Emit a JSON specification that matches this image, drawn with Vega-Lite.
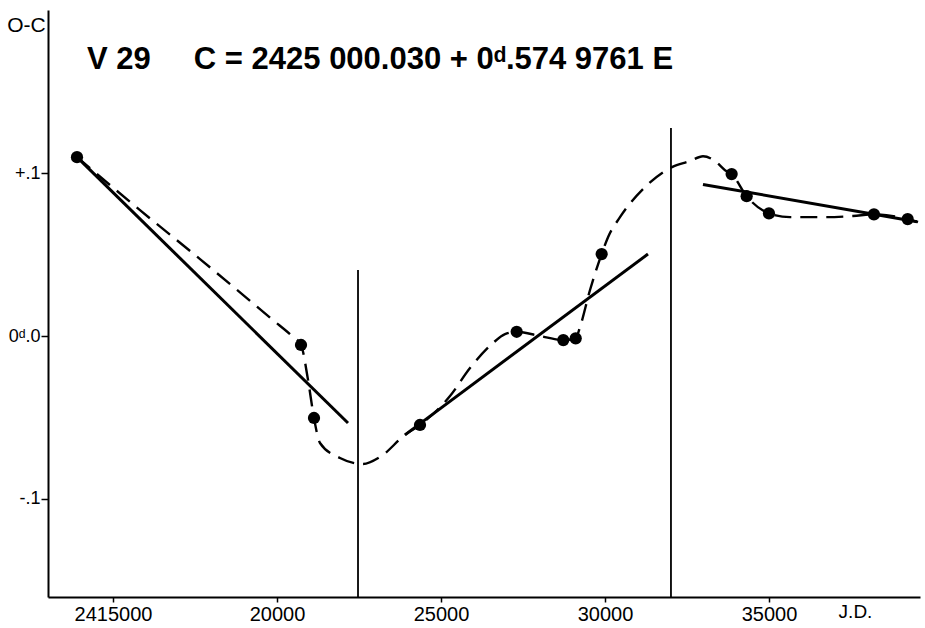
{
  "$schema": "https://vega.github.io/schema/vega-lite/v6.json",
  "autosize": {"type": "none"},
  "padding": {"left": 48, "top": 10, "right": 5, "bottom": 31},
  "width": 872,
  "height": 587,
  "background": "white",
  "config": {
    "view": {"stroke": null},
    "axis": {"grid": false, "domainColor": "black", "tickColor": "black", "labelColor": "black", "titleColor": "black", "labelFont": "Liberation Sans", "titleFont": "Liberation Sans"}
  },
  "title": {
    "text": "V 29\u00a0\u00a0\u00a0\u00a0\u00a0C = 2425 000.030 + 0\u1d48.574 9761 E",
    "anchor": "start",
    "frame": "group",
    "orient": "top",
    "offset": -90,
    "baseline": "alphabetic",
    "dx": 39,
    "font": "Liberation Sans",
    "fontSize": 31,
    "fontWeight": "bold",
    "color": "black"
  },
  "encoding": {
    "x": {
      "field": "jd",
      "type": "quantitative",
      "scale": {"domain": [13018, 39605], "nice": false, "zero": false},
      "axis": {
        "values": [15000, 20000, 25000, 30000, 35000],
        "labelExpr": "datum.value == 15000 ? '2415000' : '' + datum.value",
        "labelFontSize": 20,
        "labelPadding": 2,
        "labelFlush": false,
        "labelOverlap": false,
        "tickSize": 5,
        "tickWidth": 1.5,
        "domainWidth": 2,
        "title": "J.D.",
        "titleX": 807,
        "titleY": 14,
        "titleAlign": "center",
        "titleBaseline": "middle",
        "titleFontSize": 19,
        "titleFontWeight": "normal"
      }
    },
    "y": {
      "field": "v",
      "type": "quantitative",
      "scale": {"domain": [-0.1605, 0.2005], "nice": false, "zero": false},
      "axis": {
        "values": [-0.1, 0, 0.1],
        "labelExpr": "datum.value > 0.05 ? '+.1' : (datum.value < -0.05 ? '-.1' : '0\u1d48.0')",
        "labelFontSize": 18,
        "labelPadding": 1,
        "tickSize": 7,
        "tickWidth": 1.5,
        "domainWidth": 2,
        "title": "O-C",
        "titleAngle": 0,
        "titleX": -22,
        "titleY": 15,
        "titleAlign": "center",
        "titleBaseline": "middle",
        "titleFontSize": 21,
        "titleFontWeight": "normal"
      }
    }
  },
  "layer": [
    {
      "data": {"values": [{"jd": 22470, "v": 0.0406}, {"jd": 32012, "v": 0.128}]},
      "mark": {"type": "rule", "color": "black", "strokeWidth": 1.8},
      "encoding": {"y2": {"datum": -0.1605}}
    },
    {
      "data": {"values": [{}]},
      "mark": {"type": "rule", "color": "black", "strokeWidth": 2},
      "encoding": {"x": {"datum": 13018, "type": "quantitative"}, "x2": {"datum": 39605}, "y": {"datum": 0.2005, "type": "quantitative"}}
    },
    {
      "data": {"values": [
        {"seg": "A", "jd": 13902, "v": 0.110},
        {"seg": "A", "jd": 22165, "v": -0.0535},
        {"seg": "B", "jd": 23902, "v": -0.0608},
        {"seg": "B", "jd": 31311, "v": 0.0504},
        {"seg": "C", "jd": 32988, "v": 0.0932},
        {"seg": "C", "jd": 39512, "v": 0.0703}
      ]},
      "mark": {"type": "line", "color": "black", "strokeWidth": 3},
      "encoding": {"detail": {"field": "seg"}}
    },
    {
      "data": {"values": [
        {"jd": 13902, "v": 0.110},
        {"jd": 15823, "v": 0.0774},
        {"jd": 17653, "v": 0.0473},
        {"jd": 19878, "v": 0.0098},
        {"jd": 20458, "v": 0.0},
        {"jd": 20732, "v": -0.0055},
        {"jd": 20946, "v": -0.027},
        {"jd": 21128, "v": -0.0504},
        {"jd": 21311, "v": -0.0658},
        {"jd": 21921, "v": -0.075},
        {"jd": 22622, "v": -0.0787},
        {"jd": 23141, "v": -0.0744},
        {"jd": 23903, "v": -0.0608},
        {"jd": 24360, "v": -0.0547},
        {"jd": 25275, "v": -0.0369},
        {"jd": 25885, "v": -0.0197},
        {"jd": 26586, "v": -0.0043},
        {"jd": 26952, "v": 0.0012},
        {"jd": 27308, "v": 0.0026},
        {"jd": 28019, "v": 0.0},
        {"jd": 28729, "v": -0.0025},
        {"jd": 29107, "v": -0.0014},
        {"jd": 29239, "v": 0.0055},
        {"jd": 29544, "v": 0.0283},
        {"jd": 29899, "v": 0.0504},
        {"jd": 30093, "v": 0.0608},
        {"jd": 30458, "v": 0.0731},
        {"jd": 31221, "v": 0.0916},
        {"jd": 32044, "v": 0.1039},
        {"jd": 32593, "v": 0.1076},
        {"jd": 32989, "v": 0.1106},
        {"jd": 33355, "v": 0.1076},
        {"jd": 33660, "v": 0.102},
        {"jd": 33862, "v": 0.0996},
        {"jd": 34320, "v": 0.086},
        {"jd": 35000, "v": 0.0754},
        {"jd": 35642, "v": 0.0731},
        {"jd": 36648, "v": 0.0731},
        {"jd": 37563, "v": 0.0738},
        {"jd": 38201, "v": 0.0748},
        {"jd": 39229, "v": 0.0719},
        {"jd": 39544, "v": 0.0701}
      ]},
      "mark": {"type": "line", "color": "black", "strokeWidth": 2.4, "strokeDash": [17, 9], "interpolate": "monotone"}
    },
    {
      "data": {"values": [
        {"jd": 13902, "v": 0.110},
        {"jd": 20732, "v": -0.0055},
        {"jd": 21128, "v": -0.0504},
        {"jd": 24360, "v": -0.0547},
        {"jd": 27308, "v": 0.0026},
        {"jd": 28729, "v": -0.0025},
        {"jd": 29107, "v": -0.0014},
        {"jd": 29899, "v": 0.0504},
        {"jd": 33862, "v": 0.0996},
        {"jd": 34320, "v": 0.086},
        {"jd": 35000, "v": 0.0754},
        {"jd": 38201, "v": 0.0748},
        {"jd": 39229, "v": 0.0719}
      ]},
      "mark": {"type": "circle", "color": "black", "opacity": 1, "size": 150}
    }
  ]
}
